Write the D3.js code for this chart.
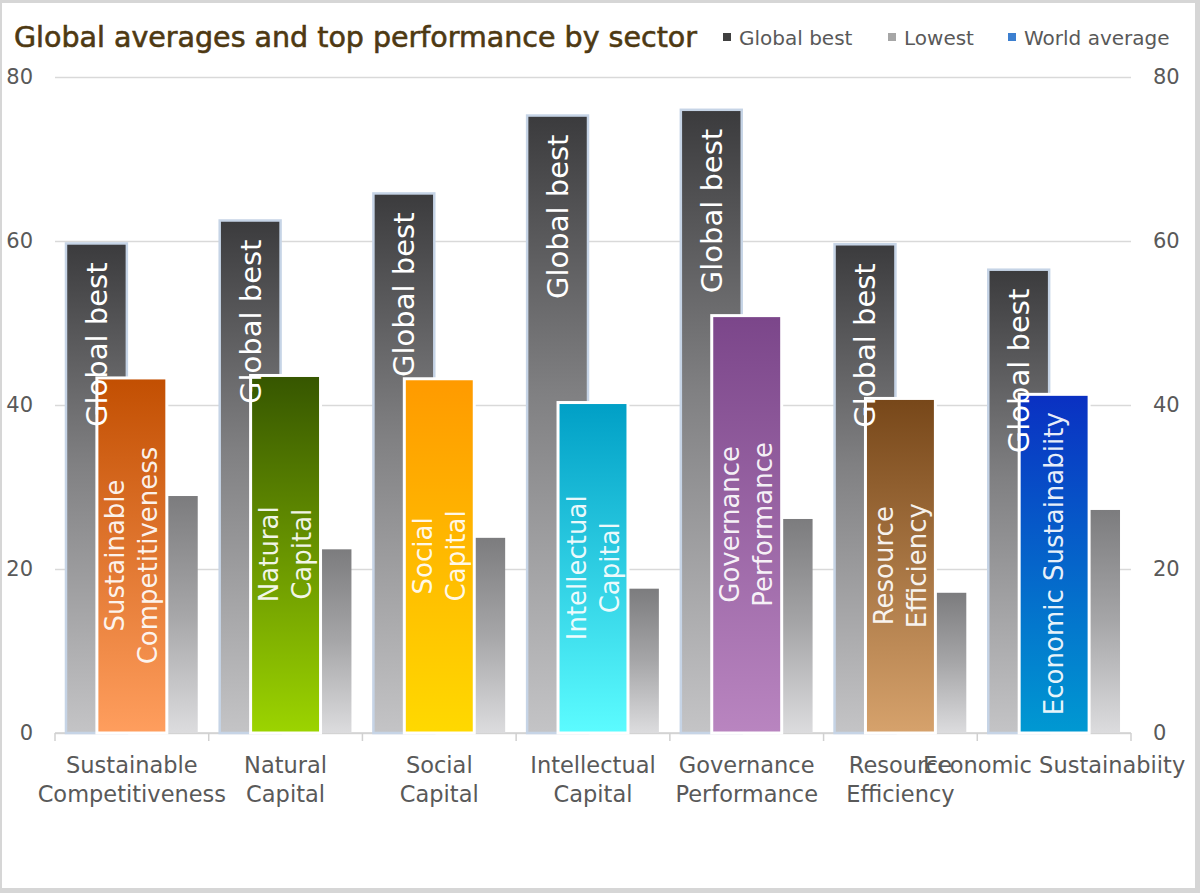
<!DOCTYPE html>
<html>
<head>
<meta charset="utf-8">
<script src="https://cdnjs.cloudflare.com/ajax/libs/d3/7.8.5/d3.min.js"></script>
<style>
  body { margin: 0; background: #fff; }
  text { font-family: "DejaVu Sans", sans-serif; }
</style>
</head>
<body>
<div id="viz"></div>
<script>
// sector data
const categories = ['Sustainable Competitiveness', 'Natural Capital', 'Social Capital',
  'Intellectual Capital', 'Governance Performance', 'Resource Efficiency', 'Economic Sustainabiity'];
const axisLabels = [['Sustainable', 'Competitiveness'], ['Natural', 'Capital'], ['Social', 'Capital'],
  ['Intellectual', 'Capital'], ['Governance', 'Performance'], ['Resource', 'Efficiency'], ['Economic Sustainabiity']];
const barLabels = axisLabels;
const globalBest = [59.7, 62.5, 65.8, 75.3, 76.0, 59.6, 56.5];
const worldAverage = [43.3, 43.6, 43.2, 40.3, 50.9, 40.8, 41.3];
const lowest = [28.9, 22.4, 23.8, 17.6, 26.1, 17.1, 27.2];
const yTicks = [0, 20, 40, 60, 80];
// top / bottom colours of the world average bars
const avgTop = ['#c24f02', '#365600', '#ff9a00', '#009fc6', '#7b468a', '#774719', '#0a30c2'];
const avgBottom = ['#ff9e5e', '#9cd400', '#ffd900', '#5cfcff', '#b985c0', '#d6a26c', '#0099d2'];
const legendItems = ['Global best', 'Lowest', 'World average'];
const legendFill = ['#404040', '#a6a6a6', '#3c7fd0'];

const width = 1200;
const height = 893;
const plotLeft = 55;
const plotRight = 1131;
const plotTop = 77;
const plotBottom = 733;

const svg = d3.select('#viz')
      .append('svg')
      .attr('width', width)
      .attr('height', height);

const defs = svg.append('defs');

function vGrad(id, stops) {
  const g = defs.append('linearGradient')
      .attr('id', id)
      .attr('x1', 0).attr('y1', 0)
      .attr('x2', 0).attr('y2', 1);
  stops.forEach(s => g.append('stop').attr('offset', s[0]).attr('stop-color', s[1]));
}
vGrad('gBest', [[0, '#3b3b3d'], [0.45, '#808082'], [1, '#c4c4c6']]);
vGrad('gLow', [[0, '#7c7c7e'], [0.5, '#a6a6a8'], [1, '#dcdcde']]);
categories.forEach((c, i) => vGrad('gAvg' + i, [[0, avgTop[i]], [1, avgBottom[i]]]));

// frame
svg.append('rect')
    .attr('width', width).attr('height', height)
    .attr('fill', '#d6d6d6');
svg.append('rect')
    .attr('x', 2).attr('y', 3)
    .attr('width', 1193).attr('height', 885)
    .attr('fill', '#fff');

const x = d3.scaleBand().domain(categories).range([plotLeft, plotRight]);
const xSub = d3.scaleBand().domain(['best', 'lowest'])
      .range([0, x.bandwidth()])
      .paddingInner(0.141)
      .paddingOuter(0.155);
const avgWidth = x.bandwidth() * 0.455;
const y = d3.scaleLinear().domain([0, 80]).range([plotBottom, plotTop]);

// gridlines
svg.append('g')
    .attr('transform', `translate(${plotLeft} 0)`)
    .call(d3.axisLeft(y).tickValues(yTicks).tickSize(-(plotRight - plotLeft)).tickFormat(''))
    .call(g => g.select('.domain').remove())
    .call(g => g.selectAll('line').attr('stroke', '#d9d9d9').attr('stroke-width', 1.5));

// y labels both sides
svg.append('g')
    .attr('transform', 'translate(33 0)')
    .call(d3.axisLeft(y).tickValues(yTicks).tickSize(0).tickPadding(0))
    .call(g => g.select('.domain').remove())
    .call(g => g.selectAll('text').attr('fill', '#595959').attr('font-size', 21)
        .attr('font-family', '"DejaVu Sans", sans-serif'));
svg.append('g')
    .attr('transform', 'translate(1153 0)')
    .call(d3.axisRight(y).tickValues(yTicks).tickSize(0).tickPadding(0))
    .call(g => g.select('.domain').remove())
    .call(g => g.selectAll('text').attr('fill', '#595959').attr('font-size', 21)
        .attr('font-family', '"DejaVu Sans", sans-serif'));

// x axis line + boundary ticks
svg.append('line')
    .attr('x1', plotLeft).attr('x2', plotRight)
    .attr('y1', y(0)).attr('y2', y(0))
    .attr('stroke', '#d0d0d0').attr('stroke-width', 1.5);
svg.append('g').selectAll('line')
    .data(categories.map(c => x(c)).concat([x(categories[categories.length - 1]) + x.bandwidth()]))
    .join('line')
    .attr('x1', d => d).attr('x2', d => d)
    .attr('y1', y(0)).attr('y2', y(0) + 8)
    .attr('stroke', '#d0d0d0').attr('stroke-width', 1.5);

// category labels
svg.append('g').selectAll('text')
    .data(categories)
    .join('text')
    .attr('text-anchor', 'middle')
    .attr('fill', '#595959')
    .attr('font-size', 22.5)
    .each(function(c, i) {
      d3.select(this).selectAll('tspan')
          .data(axisLabels[i])
          .join('tspan')
          .attr('x', x(c) + x.bandwidth() / 2)
          .attr('y', (d, j) => 773 + j * 29)
          .text(d => d);
    });

// bars
const bars = svg.append('g');
bars.selectAll('rect.best')
    .data(categories)
    .join('rect')
    .attr('class', 'best')
    .attr('x', (c) => x(c) + xSub('best'))
    .attr('y', (c, i) => y(globalBest[i]))
    .attr('width', xSub.bandwidth())
    .attr('height', (c, i) => y(0) - y(globalBest[i]))
    .attr('fill', 'url(#gBest)')
    .attr('stroke', '#c6d4e6')
    .attr('stroke-width', 2.5);

bars.selectAll('rect.low')
    .data(categories)
    .join('rect')
    .attr('class', 'low')
    .attr('x', (c) => x(c) + xSub('lowest'))
    .attr('y', (c, i) => y(lowest[i]))
    .attr('width', xSub.bandwidth())
    .attr('height', (c, i) => y(0) - y(lowest[i]))
    .attr('fill', 'url(#gLow)');

bars.selectAll('rect.avg')
    .data(categories)
    .join('rect')
    .attr('class', 'avg')
    .attr('x', (c) => x(c) + x.bandwidth() / 2 - avgWidth / 2)
    .attr('y', (c, i) => y(worldAverage[i]))
    .attr('width', avgWidth)
    .attr('height', (c, i) => y(0) - y(worldAverage[i]))
    .attr('fill', (c, i) => `url(#gAvg${i})`)
    .attr('stroke', '#fff')
    .attr('stroke-width', 3);

// labels inside bars
const labels = svg.append('g').attr('fill', '#fff');
labels.selectAll('text.best')
    .data(categories)
    .join('text')
    .attr('class', 'best')
    .attr('transform', (c, i) => `translate(${x(c) + xSub('best') + xSub.bandwidth() / 2} ${y(globalBest[i])}) rotate(-90)`)
    .attr('x', -19)
    .attr('dy', '0.36em')
    .attr('text-anchor', 'end')
    .attr('font-size', 29)
    .text('Global best');

labels.selectAll('text.avg')
    .data(categories)
    .join('text')
    .attr('class', 'avg')
    .attr('transform', (c, i) => `translate(${x(c) + x.bandwidth() / 2} ${(y(worldAverage[i]) + y(0)) / 2}) rotate(-90)`)
    .attr('text-anchor', 'middle')
    .attr('font-size', 26)
    .attr('fill-opacity', 0.92)
    .each(function(c, i) {
      const lines = barLabels[i];
      d3.select(this).selectAll('tspan')
          .data(lines)
          .join('tspan')
          .attr('x', 0)
          .attr('y', (d, j) => (j - (lines.length - 1) / 2) * 33 + 9)
          .text(d => d);
    });

// title + legend
svg.append('text')
    .attr('x', 14).attr('y', 47)
    .attr('fill', '#4e3912')
    .attr('stroke', '#4e3912')
    .attr('stroke-width', 0.6)
    .attr('font-size', 28.5)
    .text('Global averages and top performance by sector');

const legendOffsets = [723, 888, 1008];
const legend = svg.append('g').selectAll('g')
    .data(legendItems)
    .join('g')
    .attr('transform', (d, i) => `translate(${legendOffsets[i]} 0)`);
legend.append('rect')
    .attr('y', 33).attr('width', 8).attr('height', 8)
    .attr('fill', (d, i) => legendFill[i]);
legend.append('text')
    .attr('x', 16).attr('y', 45)
    .attr('fill', '#595959')
    .attr('font-size', 20)
    .text(d => d);
</script>
</body>
</html>
